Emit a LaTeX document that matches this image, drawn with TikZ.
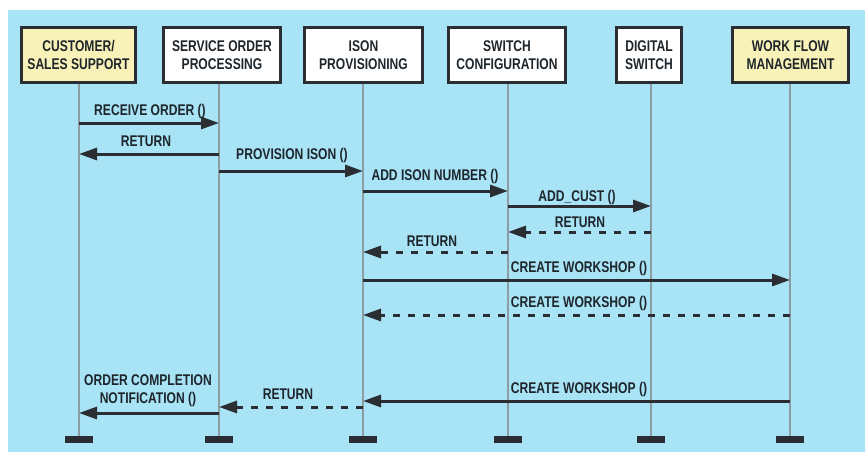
\documentclass[tikz,border=0pt]{standalone}
\usepackage{fontspec}
\setmainfont[FakeStretch=0.78]{Liberation Sans}
\usetikzlibrary{arrows.meta}
\definecolor{bg}{HTML}{A8E3F6}
\definecolor{ylw}{HTML}{F8F2B8}
\definecolor{ink}{HTML}{2A2E33}
\definecolor{txt}{HTML}{1E262C}
\definecolor{life}{HTML}{8E9CA3}
\begin{document}
\begin{tikzpicture}[x=1pt,y=-1pt,
  lab/.style={font=\bfseries\fontsize{15.5}{18}\selectfont, text=txt, inner sep=0pt, align=center},
  actor/.style={lab, draw=ink, line width=2.8pt, fill=white, minimum height=55pt},
  hl/.style={fill=ylw},
  bar/.style={fill=ink, minimum width=28pt, minimum height=7pt, inner sep=0pt},
  lifeln/.style={draw=life, line width=1.1pt},
  msg/.style={draw=ink, line width=3pt, -{Triangle[length=18pt,width=12pt]}},
  ret/.style={msg, dash pattern=on 7pt off 8pt}
]
\useasboundingbox (0,0) rectangle (865,452);
\fill[white] (0,0) rectangle (865,452);
\fill[bg] (8,10) rectangle (865,452);

% actors
\node[actor, hl, minimum width=114pt] (a1) at (78.5,55) {CUSTOMER/\\SALES SUPPORT};
\node[actor, minimum width=117pt] (a2) at (222,55) {SERVICE ORDER\\PROCESSING};
\node[actor, minimum width=118pt] (a3) at (363.5,55) {ISON\\PROVISIONING};
\node[actor, minimum width=117pt] (a4) at (507,55) {SWITCH\\CONFIGURATION};
\node[actor, minimum width=65pt] (a5) at (649,55) {DIGITAL\\SWITCH};
\node[actor, hl, minimum width=116pt] (a6) at (790.5,55) {WORK FLOW\\MANAGEMENT};

% lifeline ends
\node[bar] (b1) at (79,439.5) {};
\node[bar] (b2) at (219,439.5) {};
\node[bar] (b3) at (363,439.5) {};
\node[bar] (b4) at (508,439.5) {};
\node[bar] (b5) at (651,439.5) {};
\node[bar] (b6) at (790,439.5) {};

\foreach \i in {1,...,6}{
  \draw[lifeln] (b\i.north) -- (b\i |- a\i.south);
}

% messages
\draw[msg] (b1 |- 0,123) -- (b2 |- 0,123);
\draw[msg] (b2 |- 0,154) -- (b1 |- 0,154);
\draw[msg] (b2 |- 0,171) -- (b3 |- 0,171);
\draw[msg] (b3 |- 0,191) -- (b4 |- 0,191);
\draw[msg] (b4 |- 0,206) -- (b5 |- 0,206);
\draw[ret] (b5 |- 0,232) -- (b4 |- 0,232);
\draw[ret] (b4 |- 0,252) -- (b3 |- 0,252);
\draw[msg] (b3 |- 0,280) -- (b6 |- 0,280);
\draw[ret] (b6 |- 0,315) -- (b3 |- 0,315);
\draw[msg] (b6 |- 0,401) -- (b3 |- 0,401);
\draw[ret] (b3 |- 0,407) -- (b2 |- 0,407);
\draw[msg] (b2 |- 0,413) -- (b1 |- 0,413);

% labels
\node[lab] (l1) at (150,111) {RECEIVE ORDER ()};
\node[lab] (l2) at (146,141) {RETURN};
\node[lab] (l3) at (292,155) {PROVISION ISON ()};
\node[lab] (l4) at (435,176) {ADD ISON NUMBER ()};
\node[lab] (l5) at (577,197) {ADD\_CUST ()};
\node[lab] (l6) at (580,222) {RETURN};
\node[lab] (l7) at (432,241) {RETURN};
\node[lab] (l8) at (579,268) {CREATE WORKSHOP ()};
\node[lab] (l9) at (579,303) {CREATE WORKSHOP ()};
\node[lab] (l10) at (579,389) {CREATE WORKSHOP ()};
\node[lab] (l11) at (288,394) {RETURN};
\node[lab] (l12) at (148,391) {ORDER COMPLETION\\NOTIFICATION ()};
\end{tikzpicture}
\end{document}
